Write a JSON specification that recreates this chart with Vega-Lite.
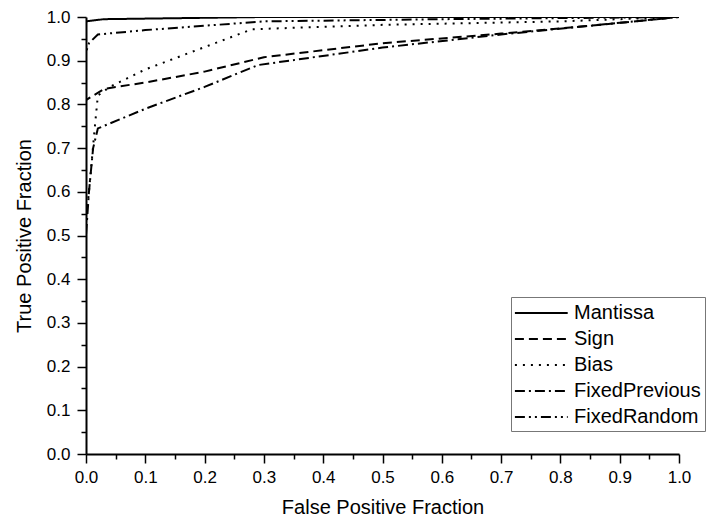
{
  "$schema": "https://vega.github.io/schema/vega-lite/v6.json",
  "width": 593,
  "height": 437,
  "autosize": "none",
  "padding": {"left": 86, "top": 17, "right": 35, "bottom": 69},
  "background": "white",
  "config": {
    "font": "Liberation Sans",
    "view": {"stroke": null},
    "axis": {"grid": false, "domainColor": "black", "domainWidth": 2, "tickColor": "black", "tickWidth": 1.5, "labelColor": "black", "titleColor": "black", "labelFont": "Liberation Sans", "titleFont": "Liberation Sans", "labelFontSize": 17, "titleFontSize": 20, "titleFontWeight": "normal", "labelFlush": false}
  },
  "data": {"values": [
    {"s": "Mantissa", "x": 0, "y": 0},
    {"s": "Mantissa", "x": 0, "y": 0.99},
    {"s": "Mantissa", "x": 0.03, "y": 0.995},
    {"s": "Mantissa", "x": 0.3, "y": 1.0},
    {"s": "Mantissa", "x": 1.0, "y": 1.0},
    {"s": "Sign", "x": 0, "y": 0},
    {"s": "Sign", "x": 0, "y": 0.81},
    {"s": "Sign", "x": 0.03, "y": 0.835},
    {"s": "Sign", "x": 0.05, "y": 0.84},
    {"s": "Sign", "x": 0.1, "y": 0.85},
    {"s": "Sign", "x": 0.2, "y": 0.875},
    {"s": "Sign", "x": 0.3, "y": 0.908},
    {"s": "Sign", "x": 0.5, "y": 0.94},
    {"s": "Sign", "x": 0.7, "y": 0.962},
    {"s": "Sign", "x": 0.85, "y": 0.98},
    {"s": "Sign", "x": 1.0, "y": 1.0},
    {"s": "Bias", "x": 0, "y": 0},
    {"s": "Bias", "x": 0, "y": 0.53},
    {"s": "Bias", "x": 0.005, "y": 0.6},
    {"s": "Bias", "x": 0.015, "y": 0.75},
    {"s": "Bias", "x": 0.02, "y": 0.82},
    {"s": "Bias", "x": 0.04, "y": 0.84},
    {"s": "Bias", "x": 0.1, "y": 0.88},
    {"s": "Bias", "x": 0.28, "y": 0.972},
    {"s": "Bias", "x": 0.5, "y": 0.982},
    {"s": "Bias", "x": 0.8, "y": 0.99},
    {"s": "Bias", "x": 1.0, "y": 1.0},
    {"s": "FixedPrevious", "x": 0, "y": 0},
    {"s": "FixedPrevious", "x": 0, "y": 0.5},
    {"s": "FixedPrevious", "x": 0.005, "y": 0.6},
    {"s": "FixedPrevious", "x": 0.012, "y": 0.7},
    {"s": "FixedPrevious", "x": 0.02, "y": 0.745},
    {"s": "FixedPrevious", "x": 0.1, "y": 0.79},
    {"s": "FixedPrevious", "x": 0.2, "y": 0.84},
    {"s": "FixedPrevious", "x": 0.29, "y": 0.89},
    {"s": "FixedPrevious", "x": 0.5, "y": 0.93},
    {"s": "FixedPrevious", "x": 0.7, "y": 0.96},
    {"s": "FixedPrevious", "x": 0.85, "y": 0.98},
    {"s": "FixedPrevious", "x": 1.0, "y": 1.0},
    {"s": "FixedRandom", "x": 0, "y": 0},
    {"s": "FixedRandom", "x": 0, "y": 0.92},
    {"s": "FixedRandom", "x": 0.005, "y": 0.94},
    {"s": "FixedRandom", "x": 0.02, "y": 0.96},
    {"s": "FixedRandom", "x": 0.1, "y": 0.97},
    {"s": "FixedRandom", "x": 0.3, "y": 0.99},
    {"s": "FixedRandom", "x": 0.6, "y": 0.995},
    {"s": "FixedRandom", "x": 1.0, "y": 1.0}
  ]},
  "mark": {"type": "line", "color": "black", "strokeWidth": 2, "clip": true},
  "encoding": {
    "x": {
      "field": "x", "type": "quantitative", "title": "False Positive Fraction",
      "scale": {"domain": [0, 1], "nice": false, "zero": false},
      "axis": {
        "values": [0, 0.05, 0.1, 0.15, 0.2, 0.25, 0.3, 0.35, 0.4, 0.45, 0.5, 0.55, 0.6, 0.65, 0.7, 0.75, 0.8, 0.85, 0.9, 0.95, 1.0],
        "labelExpr": "abs(datum.value*10 - round(datum.value*10)) < 0.01 ? format(datum.value, '.1f') : ''",
        "labelOverlap": false,
        "labelPadding": 6,
        "tickSize": {"condition": {"test": "abs(datum.value*10 - round(datum.value*10)) < 0.01", "value": 9}, "value": 5},
        "titlePadding": 12
      }
    },
    "y": {
      "field": "y", "type": "quantitative", "title": "True Positive Fraction",
      "scale": {"domain": [0, 1], "nice": false, "zero": false},
      "axis": {
        "values": [0, 0.05, 0.1, 0.15, 0.2, 0.25, 0.3, 0.35, 0.4, 0.45, 0.5, 0.55, 0.6, 0.65, 0.7, 0.75, 0.8, 0.85, 0.9, 0.95, 1.0],
        "labelExpr": "abs(datum.value*10 - round(datum.value*10)) < 0.01 ? format(datum.value, '.1f') : ''",
        "labelOverlap": false,
        "labelPadding": 7,
        "tickSize": {"condition": {"test": "abs(datum.value*10 - round(datum.value*10)) < 0.01", "value": 9}, "value": 5},
        "titlePadding": 12
      }
    },
    "strokeDash": {
      "field": "s", "type": "nominal",
      "scale": {"domain": ["Mantissa", "Sign", "Bias", "FixedPrevious", "FixedRandom"], "range": [[1, 0], [9, 5], [2, 6], [10, 4, 2, 4], [10, 4, 2, 4, 2, 4]]},
      "legend": {
        "title": null, "orient": "none", "legendX": 425, "legendY": 280,
        "symbolType": "M-1.1,0H3.7", "symbolSize": 484, "symbolStrokeWidth": 2, "symbolStrokeColor": "black", "symbolFillColor": "transparent",
        "labelFontSize": 20, "labelColor": "black", "labelFont": "Liberation Sans", "labelOffset": 35,
        "rowPadding": 4, "padding": 4, "strokeColor": "#777777", "fillColor": "white", "labelLimit": 300
      }
    }
  }
}
